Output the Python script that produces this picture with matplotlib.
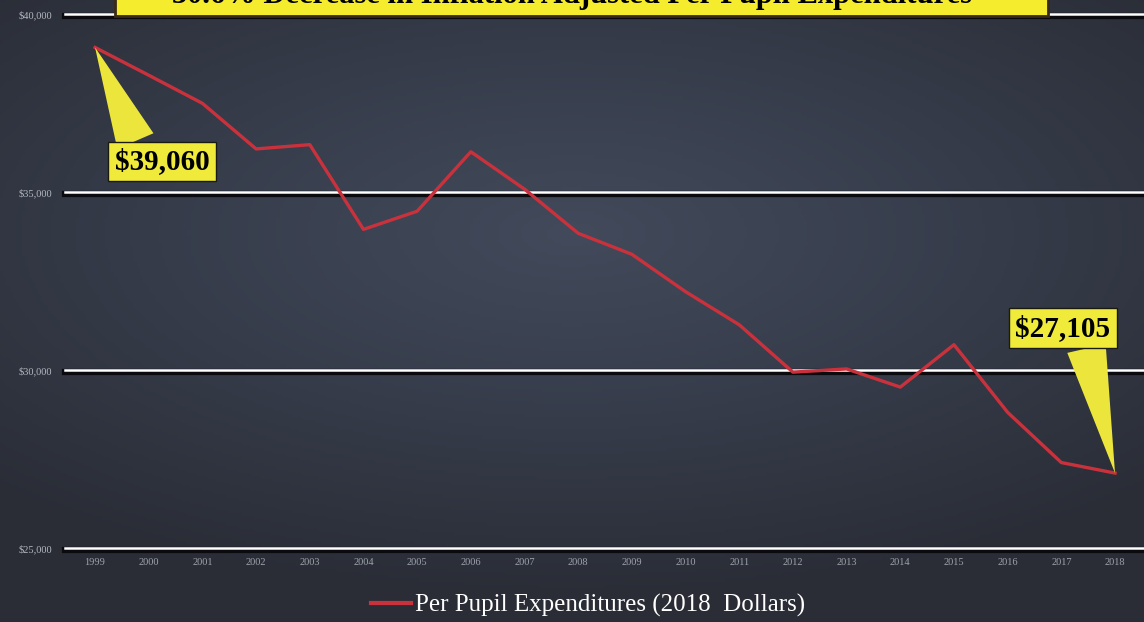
import numpy as np
import matplotlib
matplotlib.use('Agg')
import matplotlib.pyplot as plt
from matplotlib.colors import LinearSegmentedColormap
from matplotlib.patches import Rectangle

# ---- data -----------------------------------------------------------------
years = list(range(1999, 2019))
spend = [39060, 38280, 37490, 36210, 36330, 33950, 34460, 36130, 35080, 33840,
         33250, 32200, 31270, 29940, 30030, 29520, 30710, 28810, 27400, 27105]
ytick_vals = [25000, 30000, 35000, 40000]
ytick_labels = ['$25,000', '$30,000', '$35,000', '$40,000']
title = '30.6% Decrease in Inflation Adjusted Per Pupil Expenditures'
series_name = 'Per Pupil Expenditures (2018  Dollars)'
callouts = [(1999, 39060, '$39,060'), (2018, 27105, '$27,105')]

W, H = 1144, 622
fig = plt.figure(figsize=(W / 100, H / 100), dpi=100)
fig.patch.set_facecolor('#2e313b')

# background gradient (lighter in the middle, darker to the edges)
bg = fig.add_axes([0, 0, 1, 1], zorder=-5)
yy, xx = np.mgrid[-1:1:200j, -1:1:360j]
rr = np.sqrt((xx * 0.9) ** 2 + ((yy + 0.25) * 1.1) ** 2)
cmap = LinearSegmentedColormap.from_list('bg', ['#424a5b', '#363c4a', '#2a2d36'])
bg.imshow(rr, cmap=cmap, aspect='auto', extent=[0, 1, 0, 1], vmin=0, vmax=1.3)
bg.axis('off')

ax = fig.add_axes([65 / W, (H - 548) / H, 1 - 65 / W, (548 - 14) / H])
ax.set_facecolor('none')
ax.set_xlim(1998.44, 2018.54)
ax.set_ylim(25000, 40000)
for s in ax.spines.values():
    s.set_visible(False)

# white gridlines with dark shadow
for v in ytick_vals:
    ax.axhline(v - 60, color='#0b0b0f', lw=4.5, zorder=1, clip_on=False)
    ax.axhline(v, color='white', lw=1.8, zorder=2, clip_on=False)

ax.plot(years, spend, color='#c9323c', lw=2.4, zorder=3, label=series_name)

ax.set_yticks(ytick_vals)
ax.set_yticklabels(ytick_labels, family='Liberation Serif', fontsize=7.5, color='#b4b8c0')
ax.set_xticks(years)
ax.set_xticklabels([str(y) for y in years], family='Liberation Serif', fontsize=7.5, color='#9ea2ab')
ax.tick_params(length=0)
ax.tick_params(axis='y', pad=9)
ax.tick_params(axis='x', pad=7)

# yellow callouts
offs = [(67, -114), (-52, 145)]
rels = [(0.25, 1.0), (0.73, 0.0)]
for (x, y, t), (dx, dy), rp in zip(callouts, offs, rels):
    ax.annotate(t, xy=(x, y), xytext=(dx, dy), textcoords='offset pixels',
                ha='center', va='center', family='Liberation Serif',
                fontsize=21, fontweight='bold', color='black', zorder=6,
                bbox=dict(boxstyle='square,pad=0.22', fc='#f0ea3a', ec='#1a1a10', lw=1),
                arrowprops=dict(arrowstyle='wedge,tail_width=1.35,shrink_factor=0.5',
                                fc='#ece63c', ec='none', shrinkA=0, shrinkB=0,
                                relpos=rp))

# title box, cut off at the top of the slide
fig.patches.append(Rectangle((115 / W, (H - 16) / H), (1048 - 115) / W, 0.08,
                             transform=fig.transFigure, fc='#f4ec2c',
                             ec='#3a2a18', lw=2, zorder=10))
fig.text(0.5, (H + 5) / H, title, ha='center', va='center', family='Liberation Serif',
         fontsize=22, fontweight='bold', color='black', zorder=11)

leg = ax.legend(loc='center', bbox_to_anchor=(0.514, 0.027), bbox_transform=fig.transFigure,
                frameon=False, prop={'family': 'Liberation Serif', 'size': 18},
                handlelength=1.6, handletextpad=0.15)
for txt in leg.get_texts():
    txt.set_color('white')
for ln in leg.get_lines():
    ln.set_linewidth(3)

fig.savefig('out.png', dpi=100, facecolor=fig.get_facecolor())
